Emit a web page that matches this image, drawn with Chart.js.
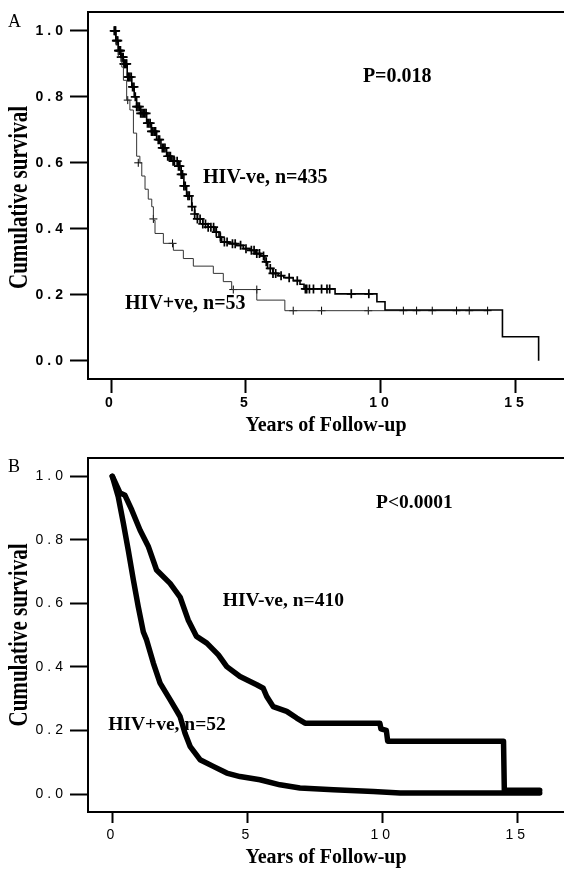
<!DOCTYPE html>
<html>
<head>
<meta charset="utf-8">
<script src="https://cdn.jsdelivr.net/npm/chart.js@4"></script>
<style>
  body { margin: 0; background: #fff; }
  canvas { display: block; }
</style>
</head>
<body>
<canvas id="chartA" width="564" height="440"></canvas>
<canvas id="chartB" width="564" height="456"></canvas>
<script>
// axis ticks (years, survival)
const xTickValues = [0, 5, 10, 15];
const yTickValues = [0, 0.2, 0.4, 0.6, 0.8, 1.0];

// Panel A - HIV-ve, n=435 (KM steps)
const aNegTime = [0.1, 0.18, 0.27, 0.36, 0.46, 0.6, 0.77, 0.86, 0.95, 1.1, 1.32, 1.5, 1.69, 1.85, 2.06, 2.25, 2.49, 2.6, 2.7, 2.8, 2.99, 3.1, 3.2, 3.4, 3.6, 3.85, 4.0, 4.1, 4.4, 4.65, 4.9, 5.15, 5.35, 5.55, 5.7, 5.8, 6.0, 6.2, 6.4, 6.75, 7.0, 7.15, 8.3, 9.85, 10.15, 14.5, 15.84];
const aNegSurv = [1.0, 0.97, 0.94, 0.92, 0.90, 0.86, 0.83, 0.80, 0.77, 0.75, 0.72, 0.695, 0.67, 0.645, 0.62, 0.605, 0.59, 0.565, 0.53, 0.50, 0.467, 0.445, 0.43, 0.415, 0.405, 0.39, 0.375, 0.36, 0.355, 0.35, 0.34, 0.335, 0.325, 0.318, 0.30, 0.28, 0.265, 0.258, 0.252, 0.243, 0.232, 0.218, 0.203, 0.179, 0.154, 0.073, 0.0];
// censored cases
const aNegCensT = [0.12, 0.15, 0.17, 0.2, 0.22, 0.25, 0.28, 0.3, 0.33, 0.35, 0.38, 0.42, 0.45, 0.48, 0.5, 0.55, 0.58, 0.62, 0.65, 0.7, 0.75, 0.8, 0.85, 0.9, 0.95, 1.0, 1.05, 1.1, 1.15, 1.2, 1.25, 1.3, 1.35, 1.4, 1.45, 1.5, 1.55, 1.6, 1.65, 1.75, 1.8, 1.9, 1.95, 2.0, 2.1, 2.15, 2.2, 2.3, 2.35, 2.45, 2.5, 2.55, 2.6, 2.65, 2.7, 2.75, 2.85, 2.9, 3.0, 3.1, 3.2, 3.3, 3.4, 3.5, 3.6, 3.7, 3.8, 3.9, 4.05, 4.2, 4.3, 4.5, 4.6, 4.8, 5.0, 5.2, 5.3, 5.4, 5.5, 5.65, 5.75, 5.9, 6.0, 6.1, 6.3, 6.6, 6.9, 7.2, 7.25, 7.35, 7.5, 7.8, 8.0, 8.1, 8.9, 9.55];
const aNegCensS = [1.0, 1.0, 1.0, 0.97, 0.97, 0.97, 0.94, 0.94, 0.94, 0.94, 0.92, 0.92, 0.92, 0.90, 0.90, 0.90, 0.90, 0.86, 0.86, 0.86, 0.86, 0.83, 0.83, 0.80, 0.77, 0.77, 0.77, 0.75, 0.75, 0.75, 0.75, 0.75, 0.72, 0.72, 0.72, 0.695, 0.695, 0.695, 0.695, 0.67, 0.67, 0.645, 0.645, 0.645, 0.62, 0.62, 0.62, 0.605, 0.605, 0.605, 0.59, 0.59, 0.565, 0.565, 0.53, 0.53, 0.50, 0.50, 0.467, 0.445, 0.43, 0.43, 0.415, 0.415, 0.405, 0.405, 0.405, 0.39, 0.375, 0.36, 0.36, 0.355, 0.355, 0.35, 0.34, 0.335, 0.335, 0.325, 0.325, 0.318, 0.30, 0.28, 0.265, 0.265, 0.258, 0.252, 0.243, 0.218, 0.218, 0.218, 0.218, 0.218, 0.218, 0.218, 0.203, 0.203];

// Panel A - HIV+ve, n=53
const aPosTime = [0.1, 0.18, 0.27, 0.4, 0.46, 0.58, 0.7, 0.83, 0.95, 1.07, 1.14, 1.26, 1.38, 1.51, 1.57, 1.63, 1.94, 2.31, 2.68, 3.05, 3.79, 4.16, 4.47, 5.4, 6.44, 13.95];
const aPosSurv = [1.0, 0.96, 0.92, 0.89, 0.85, 0.79, 0.76, 0.69, 0.62, 0.60, 0.56, 0.52, 0.49, 0.467, 0.426, 0.386, 0.356, 0.335, 0.31, 0.287, 0.265, 0.24, 0.216, 0.184, 0.152, 0.152];
const aPosCensT = [0.62, 1.01, 1.57, 2.28, 4.53, 5.4, 6.75, 7.8, 9.53, 10.83, 11.32, 11.9, 12.8, 13.27, 13.95];
const aPosCensS = [0.79, 0.60, 0.43, 0.356, 0.216, 0.216, 0.152, 0.152, 0.152, 0.152, 0.152, 0.152, 0.152, 0.152, 0.152];

// Panel B - HIV-ve, n=410
const bNegTime = [0, 0.29, 0.47, 0.72, 1.03, 1.33, 1.64, 2.14, 2.51, 2.81, 3.12, 3.5, 3.93, 4.24, 4.73, 5.35, 5.59, 5.72, 5.96, 6.46, 6.83, 7.14, 9.91, 9.95, 10.15, 10.2, 14.49, 14.52, 15.83];
const bNegSurv = [1.0, 0.947, 0.94, 0.894, 0.83, 0.78, 0.705, 0.663, 0.62, 0.548, 0.496, 0.475, 0.438, 0.401, 0.37, 0.344, 0.333, 0.307, 0.275, 0.26, 0.239, 0.223, 0.223, 0.205, 0.2, 0.166, 0.166, 0.012, 0.012];

// Panel B - HIV+ve, n=52
const bPosTime = [0, 0.22, 0.41, 0.59, 0.78, 0.96, 1.15, 1.27, 1.52, 1.77, 2.14, 2.51, 2.69, 2.88, 3.25, 3.74, 4.24, 4.73, 5.47, 6.21, 6.95, 8.19, 9.67, 10.66, 15.83];
const bPosSurv = [1.0, 0.936, 0.852, 0.768, 0.674, 0.59, 0.51, 0.485, 0.412, 0.349, 0.297, 0.244, 0.192, 0.15, 0.108, 0.087, 0.066, 0.055, 0.045, 0.029, 0.019, 0.0135, 0.008, 0.003, 0.003];

function points(ts, ss) {
  return ts.map((t, i) => ({ x: t, y: ss[i] }));
}

// frame top line, panel letter, notes, axis titles
function textPlugin(p) {
  return {
    id: 'panelText',
    beforeDraw(chart) {
      chart.ctx.letterSpacing = '4px'; // spaced tick digits
    },
    afterDraw(chart) {
      const ctx = chart.ctx, a = chart.chartArea;
      const xs = chart.scales.x, ys = chart.scales.y;
      ctx.save();
      ctx.letterSpacing = '0px';
      ctx.strokeStyle = '#000';
      ctx.lineWidth = 2;
      ctx.beginPath();
      ctx.moveTo(a.left - 1, a.top);
      ctx.lineTo(a.right, a.top);
      ctx.stroke();

      ctx.fillStyle = '#000';
      ctx.textAlign = 'left';
      ctx.textBaseline = 'alphabetic';
      ctx.font = '18px "Liberation Serif"';
      ctx.fillText(p.letter, 8, p.letterY);

      ctx.font = 'bold ' + p.noteSize + 'px "Liberation Serif"';
      p.notes.forEach(n => {
        ctx.fillText(n.text, xs.getPixelForValue(n.x), ys.getPixelForValue(n.y));
      });

      ctx.textAlign = 'center';
      ctx.font = 'bold 20px "Liberation Serif"';
      ctx.fillText('Years of Follow-up', (a.left + a.right) / 2, a.bottom + p.xTitleGap);

      ctx.save();
      ctx.translate(27, (a.top + a.bottom) / 2 + p.yTitleShift);
      ctx.rotate(-Math.PI / 2);
      ctx.scale(0.78, 1);
      ctx.font = 'bold 27px "Liberation Serif"';
      ctx.fillText('Cumulative survival', 0, 0);
      ctx.restore();
      ctx.restore();
    }
  };
}

function axes(c) {
  return {
    x: {
      type: 'linear',
      min: c.xMin,
      max: c.xMax,
      afterBuildTicks: s => { s.ticks = xTickValues.map(v => ({ value: v })); },
      afterFit: s => { s.height = c.xHeight; },
      grid: { display: true, drawOnChartArea: false, drawTicks: true, tickLength: c.xTickLen, tickWidth: 2, tickColor: '#000' },
      border: { display: true, color: '#000', width: 2 },
      ticks: { color: '#000', font: c.tickFont, padding: c.xPad, maxRotation: 0, callback: v => String(v) }
    },
    y: {
      type: 'linear',
      min: c.yMin,
      max: c.yMax,
      afterBuildTicks: s => { s.ticks = yTickValues.map(v => ({ value: v })); },
      afterFit: s => { s.width = 88; },
      grid: { display: true, drawOnChartArea: false, drawTicks: true, tickLength: 18, tickWidth: 2, tickColor: '#000' },
      border: { display: true, color: '#000', width: 2 },
      ticks: { color: '#000', font: c.tickFont, padding: 3, callback: v => v.toFixed(1) }
    }
  };
}

const baseOptions = {
  responsive: false,
  animation: false,
  events: [],
  plugins: { legend: { display: false }, tooltip: { enabled: false } }
};

new Chart(document.getElementById('chartA'), {
  type: 'line',
  data: {
    datasets: [
      { data: points(aNegTime, aNegSurv), borderColor: '#000', borderWidth: 1.6, stepped: 'before', pointRadius: 0, fill: false },
      { data: points(aPosTime, aPosSurv), borderColor: '#333', borderWidth: 1, stepped: 'before', pointRadius: 0, fill: false },
      { data: points(aNegCensT, aNegCensS), showLine: false, pointStyle: 'cross', pointRadius: 4.5, borderColor: '#000', borderWidth: 1.7 },
      { data: points(aPosCensT, aPosCensS), showLine: false, pointStyle: 'cross', pointRadius: 4, borderColor: '#000', borderWidth: 1 }
    ]
  },
  options: Object.assign({}, baseOptions, {
    layout: { autoPadding: false, padding: { top: 12, left: 0, right: 0, bottom: 0 } },
    scales: axes({
      xMin: -0.852, xMax: 16.78, yMin: -0.055, yMax: 1.057,
      xHeight: 61, xTickLen: 14, xPad: 2,
      tickFont: { family: '"Liberation Sans"', size: 14, weight: 'bold' }
    })
  }),
  plugins: [textPlugin({
    letter: 'A', letterY: 27, noteSize: 20, xTitleGap: 52, yTitleShift: 2,
    notes: [
      { text: 'P=0.018', x: 9.33, y: 0.845 },
      { text: 'HIV-ve, n=435', x: 3.41, y: 0.539 },
      { text: 'HIV+ve, n=53', x: 0.52, y: 0.157 }
    ]
  })]
});

new Chart(document.getElementById('chartB'), {
  type: 'line',
  data: {
    datasets: [
      { data: points(bNegTime, bNegSurv), borderColor: '#000', borderWidth: 5.5, borderJoinStyle: 'round', borderCapStyle: 'round', pointRadius: 0, fill: false },
      { data: points(bPosTime, bPosSurv), borderColor: '#000', borderWidth: 5.5, borderJoinStyle: 'round', borderCapStyle: 'round', pointRadius: 0, fill: false }
    ]
  },
  options: Object.assign({}, baseOptions, {
    layout: { autoPadding: false, padding: { top: 18, left: 0, right: 0, bottom: 0 } },
    scales: axes({
      xMin: -0.9, xMax: 16.73, yMin: -0.0566, yMax: 1.0575,
      xHeight: 84, xTickLen: 11, xPad: 4,
      tickFont: { family: '"Liberation Sans"', size: 14 }
    })
  }),
  plugins: [textPlugin({
    letter: 'B', letterY: 32, noteSize: 19.5, xTitleGap: 51, yTitleShift: 0,
    notes: [
      { text: 'P<0.0001', x: 9.77, y: 0.90 },
      { text: 'HIV-ve, n=410', x: 4.09, y: 0.592 },
      { text: 'HIV+ve, n=52', x: -0.15, y: 0.202 }
    ]
  })]
});
</script>
</body>
</html>
